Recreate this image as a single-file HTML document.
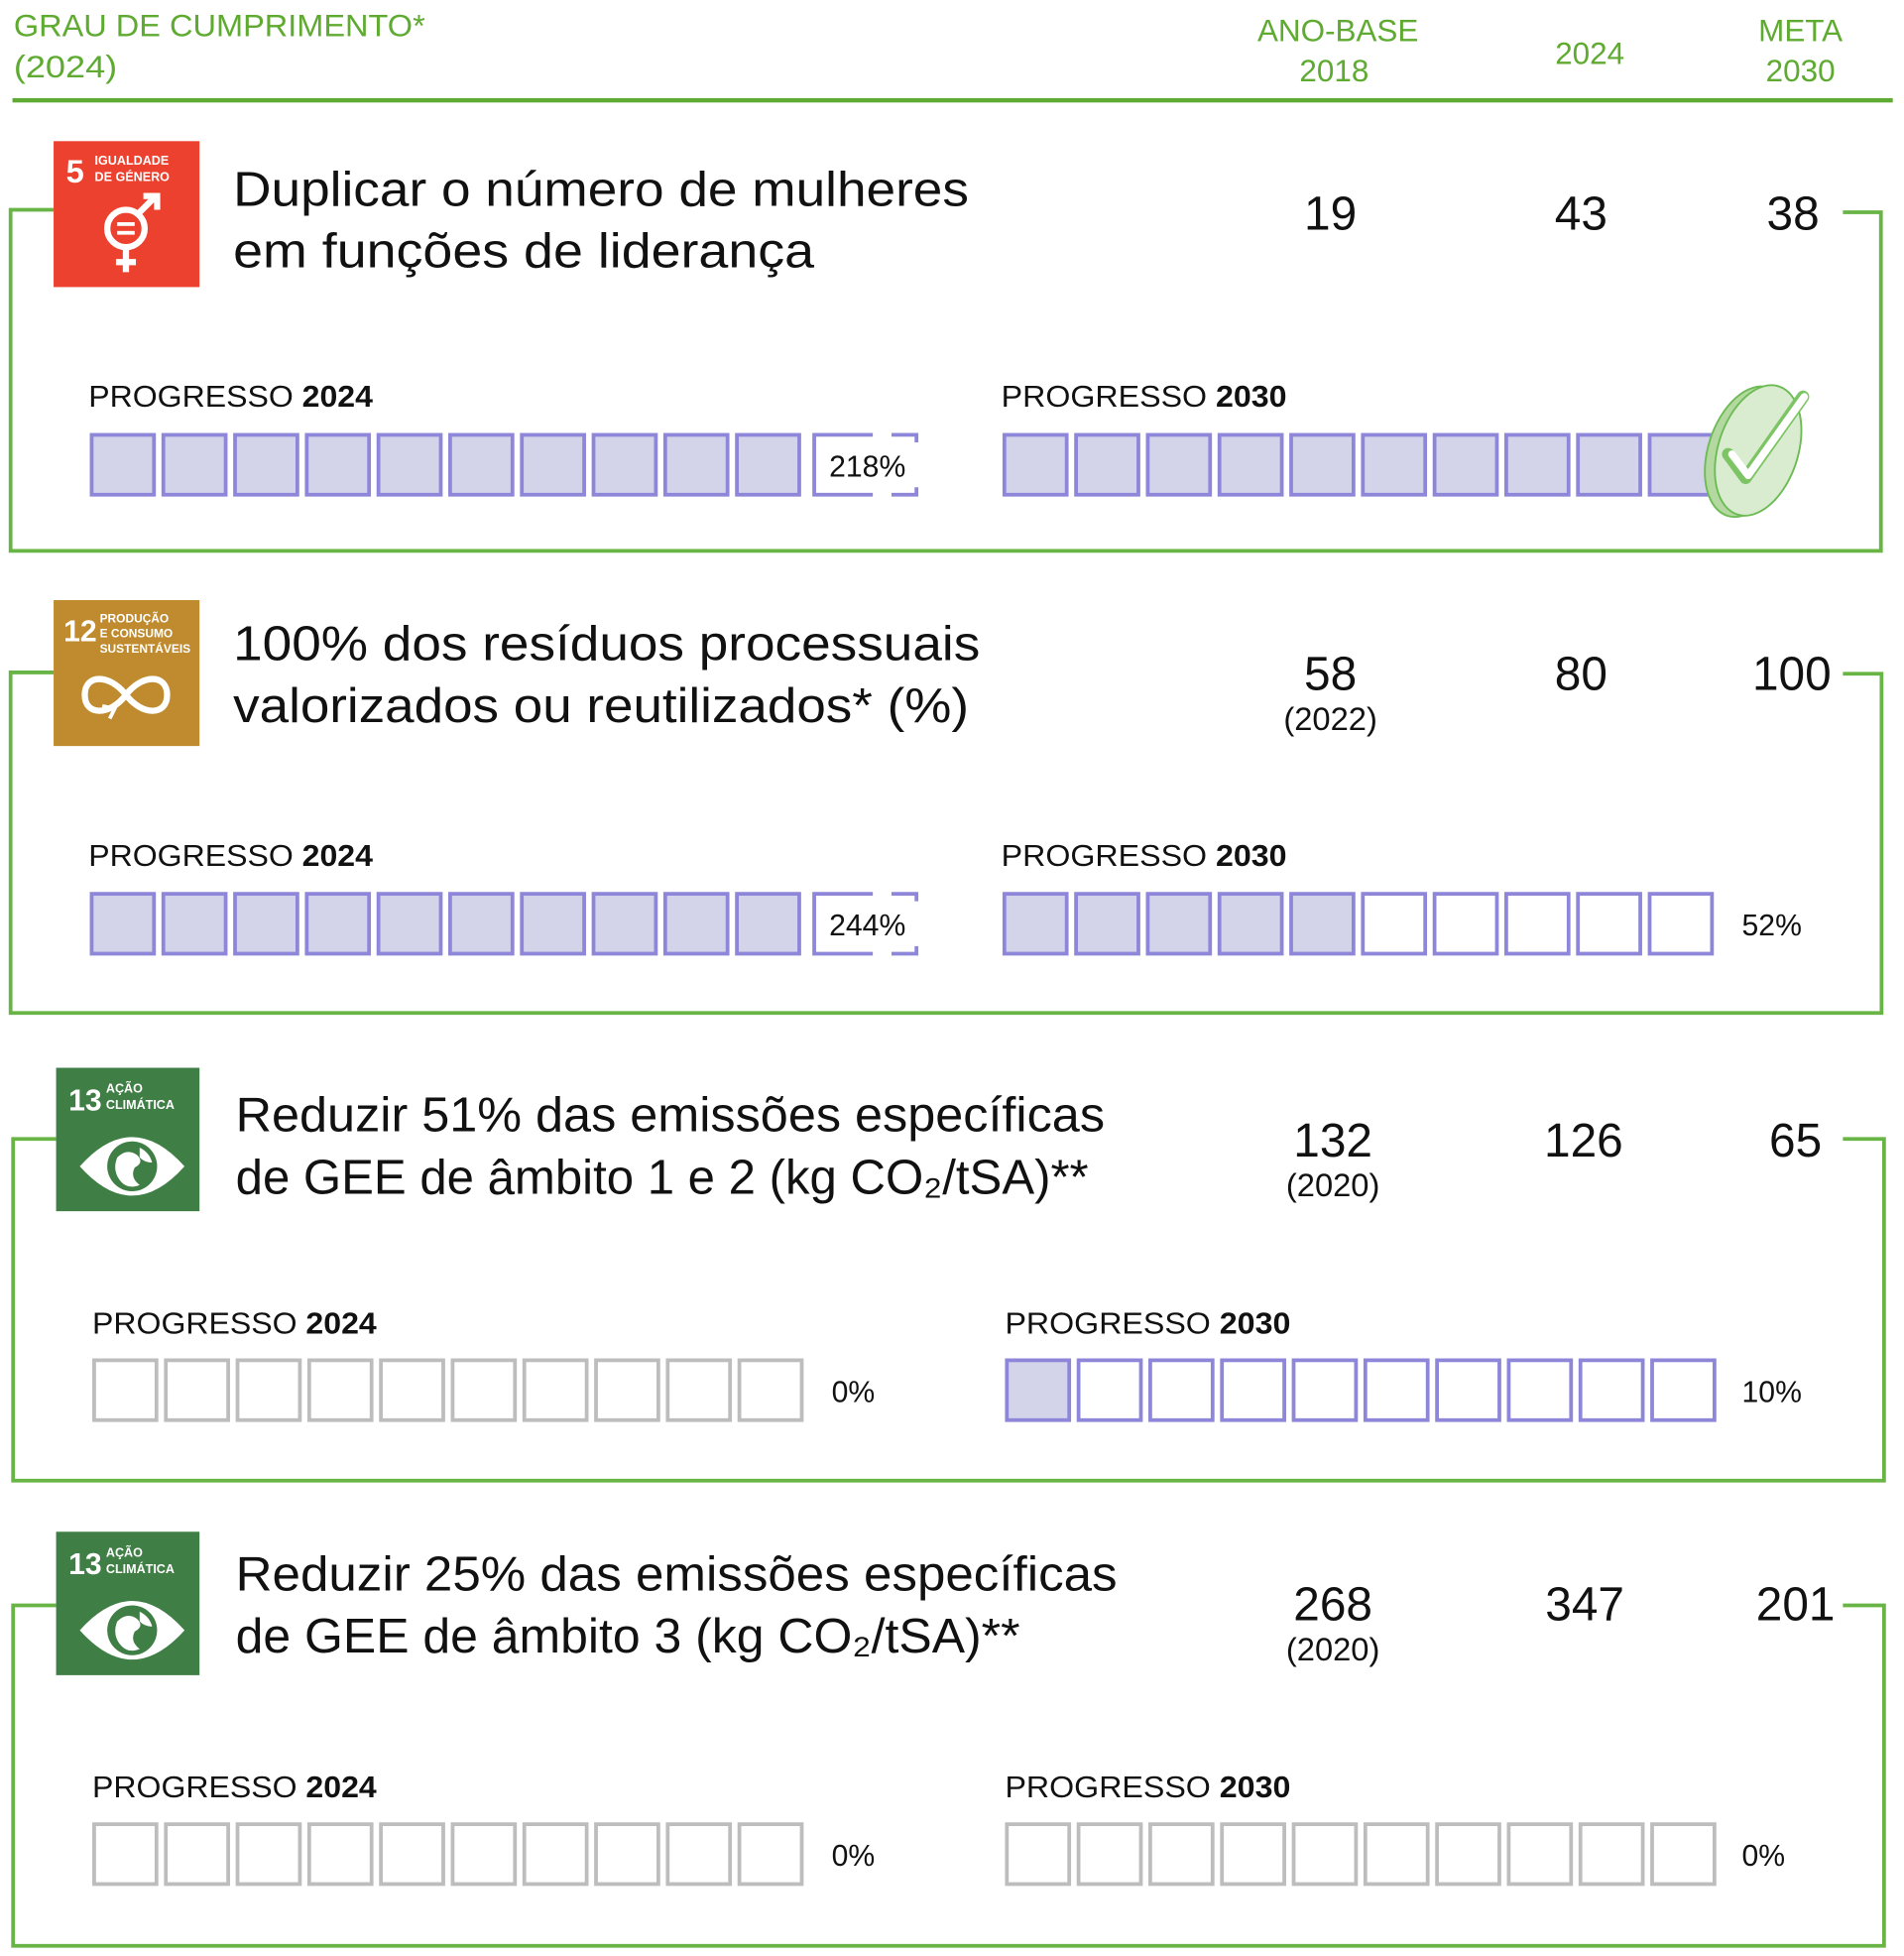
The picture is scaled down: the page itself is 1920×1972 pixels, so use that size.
<!DOCTYPE html>
<html><head><meta charset="utf-8"><style>
html,body{margin:0;padding:0;background:#fff;width:1920px;height:1972px;overflow:hidden}
svg{display:block}
text{font-family:"Liberation Sans",sans-serif}
.g{fill:#5fab32;font-size:25px}
.t{font-size:39px;fill:#111}
.n{font-size:38px;fill:#111;text-anchor:middle}
.s{font-size:26px;fill:#111;text-anchor:middle}
.p{font-size:24px;fill:#111}
.w{fill:#fff;font-weight:bold}
</style></head><body>
<svg width="1920" height="1972" viewBox="0 0 1527 1568" xmlns="http://www.w3.org/2000/svg">
<defs>
<rect id="f" width="50" height="48" fill="#d3d3ea" stroke="#8e86d8" stroke-width="3"/>
<rect id="e" width="50" height="48" fill="#fff" stroke="#8e86d8" stroke-width="3"/>
<rect id="k" width="50" height="48" fill="#fff" stroke="#bdbdbd" stroke-width="3"/>
<g id="F10"><use href="#f" x="0"/><use href="#f" x="57.5"/><use href="#f" x="115"/><use href="#f" x="172.5"/><use href="#f" x="230"/><use href="#f" x="287.5"/><use href="#f" x="345"/><use href="#f" x="402.5"/><use href="#f" x="460"/><use href="#f" x="517.5"/></g>
<g id="K10"><use href="#k" x="0"/><use href="#k" x="57.5"/><use href="#k" x="115"/><use href="#k" x="172.5"/><use href="#k" x="230"/><use href="#k" x="287.5"/><use href="#k" x="345"/><use href="#k" x="402.5"/><use href="#k" x="460"/><use href="#k" x="517.5"/></g>
<g id="dash" fill="none" stroke="#8e86d8" stroke-width="3"><path d="M47 0H0V48H47"/><path d="M62 0H82V6M62 48H82V42"/></g>
<g id="eye"><path d="M20 77 Q62 30 104 77 Q62 124 20 77Z" fill="#fff"/><circle cx="62" cy="77" r="20" fill="#3f7e44"/><path d="M50 70 q8 -8 16 -2 q6 6 -2 10 q-4 8 4 14 q-10 4 -16 -4 q-6 -8 -2 -18z M68 62 q8 4 10 12 q-6 0 -10 -4z" fill="#fff"/></g>
</defs>

<!-- header -->
<text class="g" x="11" y="29" textLength="330" lengthAdjust="spacingAndGlyphs">GRAU DE CUMPRIMENTO*</text>
<text class="g" x="11" y="62" textLength="83" lengthAdjust="spacingAndGlyphs">(2024)</text>
<text class="g" x="1073" y="33" text-anchor="middle">ANO-BASE</text>
<text class="g" x="1070" y="65" text-anchor="middle">2018</text>
<text class="g" x="1275" y="51" text-anchor="middle">2024</text>
<text class="g" x="1444" y="33" text-anchor="middle">META</text>
<text class="g" x="1444" y="65" text-anchor="middle">2030</text>
<rect x="10" y="78.5" width="1508" height="3.5" fill="#5fab32"/>

<g fill="none" stroke="#68b445" stroke-width="3">
<path d="M43 168H8.5V441.5H1508.5V170H1478"/>
<path d="M43 539H8.5V812H1509V540H1478"/>
<path d="M45 913H10.5V1187H1511V913H1478"/>
<path d="M45 1287H10.5V1560H1511V1287H1478"/>
</g>

<!-- section 1 -->
<rect x="43" y="113" width="117" height="117" fill="#ec412e"/>
<text class="w" x="53" y="146" font-size="26">5</text>
<text class="w" x="76" y="132" font-size="10">IGUALDADE</text>
<text class="w" x="76" y="145" font-size="10">DE GÉNERO</text>
<circle cx="101" cy="183" r="15" fill="none" stroke="#fff" stroke-width="5"/>
<rect x="94" y="178" width="14" height="3" fill="#fff"/><rect x="94" y="185" width="14" height="3" fill="#fff"/>
<path d="M101 198V218M93 210H109M111 171L125 157M115 157H126V168" stroke="#fff" stroke-width="5" fill="none"/>
<text class="t" x="187" y="165" textLength="590" lengthAdjust="spacingAndGlyphs">Duplicar o número de mulheres</text>
<text class="t" x="187" y="214" textLength="466" lengthAdjust="spacingAndGlyphs">em funções de liderança</text>
<text class="n" x="1067" y="184">19</text>
<text class="n" x="1268" y="184">43</text>
<text class="n" x="1438" y="184">38</text>
<text class="p" x="71" y="326" textLength="228" lengthAdjust="spacingAndGlyphs">PROGRESSO <tspan font-weight="bold">2024</tspan></text>
<text class="p" x="803" y="326" textLength="229" lengthAdjust="spacingAndGlyphs">PROGRESSO <tspan font-weight="bold">2030</tspan></text>
<use href="#F10" x="73.5" y="348.5"/>
<use href="#dash" x="653" y="348.5"/>
<text class="p" x="665" y="382">218%</text>
<use href="#F10" x="805.5" y="348.5"/>
<g>
<ellipse cx="1402" cy="362" rx="32" ry="54" transform="rotate(18 1402 362)" fill="#b4d9a0" stroke="#6dbb55" stroke-width="1.5"/>
<ellipse cx="1410" cy="361" rx="32" ry="54" transform="rotate(18 1410 361)" fill="#d9ecd0" stroke="#6dbb55" stroke-width="1.5"/>
<path d="M1386 364 L1400 383 L1446 318" fill="none" stroke="#7cc464" stroke-width="10" stroke-linecap="round" stroke-linejoin="round"/>
<path d="M1389 364 L1402 381 L1447 318" fill="none" stroke="#fff" stroke-width="6" stroke-linecap="round" stroke-linejoin="round"/>
</g>

<!-- section 2 -->
<rect x="43" y="481" width="117" height="117" fill="#bf8b2e"/>
<text class="w" x="51" y="514" font-size="24">12</text>
<text class="w" x="80" y="499" font-size="9.5">PRODUÇÃO</text>
<text class="w" x="80" y="511" font-size="9.5">E CONSUMO</text>
<text class="w" x="80" y="523" font-size="9.5">SUSTENTÁVEIS</text>
<path d="M101 557 C88 540 68 540 68 557 C68 574 88 574 101 557 C114 540 134 540 134 557 C134 574 114 574 101 557" fill="none" stroke="#fff" stroke-width="5"/>
<path d="M82 566 l10 2 l-4 8" fill="none" stroke="#fff" stroke-width="3"/>
<text class="t" x="187" y="529" textLength="599" lengthAdjust="spacingAndGlyphs">100% dos resíduos processuais</text>
<text class="t" x="187" y="579" textLength="590" lengthAdjust="spacingAndGlyphs">valorizados ou reutilizados* (%)</text>
<text class="n" x="1067" y="553">58</text>
<text class="s" x="1067" y="585">(2022)</text>
<text class="n" x="1268" y="553">80</text>
<text class="n" x="1437" y="553">100</text>
<text class="p" x="71" y="694" textLength="228" lengthAdjust="spacingAndGlyphs">PROGRESSO <tspan font-weight="bold">2024</tspan></text>
<text class="p" x="803" y="694" textLength="229" lengthAdjust="spacingAndGlyphs">PROGRESSO <tspan font-weight="bold">2030</tspan></text>
<use href="#F10" x="73.5" y="716.5"/>
<use href="#dash" x="653" y="716.5"/>
<text class="p" x="665" y="750">244%</text>
<g transform="translate(805.5,716.5)"><use href="#f" x="0"/><use href="#f" x="57.5"/><use href="#f" x="115"/><use href="#f" x="172.5"/><use href="#f" x="230"/><use href="#e" x="287.5"/><use href="#e" x="345"/><use href="#e" x="402.5"/><use href="#e" x="460"/><use href="#e" x="517.5"/></g>
<text class="p" x="1397" y="750">52%</text>

<!-- section 3 -->
<rect x="45" y="856" width="115" height="115" fill="#3f7e44"/>
<text class="w" x="55" y="890" font-size="24">13</text>
<text class="w" x="85" y="876" font-size="10">AÇÃO</text>
<text class="w" x="85" y="889" font-size="10">CLIMÁTICA</text>
<use href="#eye" x="44" y="858"/>
<text class="t" x="189" y="907" textLength="697" lengthAdjust="spacingAndGlyphs">Reduzir 51% das emissões específicas</text>
<text class="t" x="189" y="957" textLength="684" lengthAdjust="spacingAndGlyphs">de GEE de âmbito 1 e 2 (kg CO₂/tSA)**</text>
<text class="n" x="1069" y="927">132</text>
<text class="s" x="1069" y="959">(2020)</text>
<text class="n" x="1270" y="927">126</text>
<text class="n" x="1440" y="927">65</text>
<text class="p" x="74" y="1069" textLength="228" lengthAdjust="spacingAndGlyphs">PROGRESSO <tspan font-weight="bold">2024</tspan></text>
<text class="p" x="806" y="1069" textLength="229" lengthAdjust="spacingAndGlyphs">PROGRESSO <tspan font-weight="bold">2030</tspan></text>
<use href="#K10" x="75.5" y="1090.5"/>
<text class="p" x="667" y="1124">0%</text>
<g transform="translate(807.5,1090.5)"><use href="#f" x="0"/><use href="#e" x="57.5"/><use href="#e" x="115"/><use href="#e" x="172.5"/><use href="#e" x="230"/><use href="#e" x="287.5"/><use href="#e" x="345"/><use href="#e" x="402.5"/><use href="#e" x="460"/><use href="#e" x="517.5"/></g>
<text class="p" x="1397" y="1124">10%</text>

<!-- section 4 -->
<rect x="45" y="1228" width="115" height="115" fill="#3f7e44"/>
<text class="w" x="55" y="1262" font-size="24">13</text>
<text class="w" x="85" y="1248" font-size="10">AÇÃO</text>
<text class="w" x="85" y="1261" font-size="10">CLIMÁTICA</text>
<use href="#eye" x="44" y="1230"/>
<text class="t" x="189" y="1275" textLength="707" lengthAdjust="spacingAndGlyphs">Reduzir 25% das emissões específicas</text>
<text class="t" x="189" y="1325" textLength="629" lengthAdjust="spacingAndGlyphs">de GEE de âmbito 3 (kg CO₂/tSA)**</text>
<text class="n" x="1069" y="1299">268</text>
<text class="s" x="1069" y="1331">(2020)</text>
<text class="n" x="1271" y="1299">347</text>
<text class="n" x="1440" y="1299">201</text>
<text class="p" x="74" y="1441" textLength="228" lengthAdjust="spacingAndGlyphs">PROGRESSO <tspan font-weight="bold">2024</tspan></text>
<text class="p" x="806" y="1441" textLength="229" lengthAdjust="spacingAndGlyphs">PROGRESSO <tspan font-weight="bold">2030</tspan></text>
<use href="#K10" x="75.5" y="1462.5"/>
<text class="p" x="667" y="1496">0%</text>
<use href="#K10" x="807.5" y="1462.5"/>
<text class="p" x="1397" y="1496">0%</text>
</svg>
</body></html>
